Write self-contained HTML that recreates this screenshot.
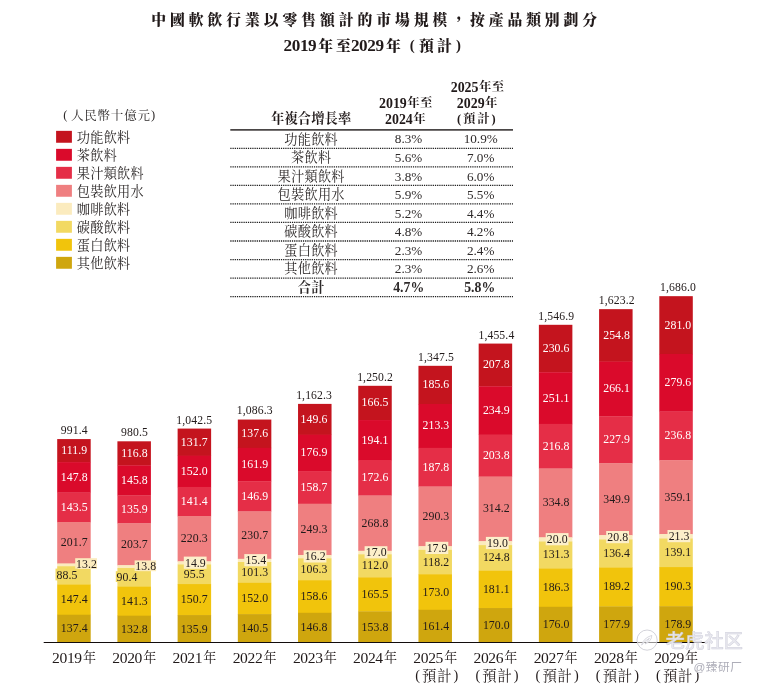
<!DOCTYPE html>
<html lang="zh-Hant"><head><meta charset="utf-8"><title>中國軟飲行業市場規模</title>
<style>html,body{margin:0;padding:0;background:#fff}svg{display:block}text{font-family:"Liberation Serif","Noto Serif CJK SC",serif;fill:#211a1a}.b{font-weight:bold}.m{text-anchor:middle}.w{fill:#fff}.v{font-size:11.8px;letter-spacing:0.05px}.t{font-size:13.2px;letter-spacing:0.25px;fill:#2e2a2a}.p{font-size:13.2px;fill:#2e2a2a}.k{fill:#2e2a2a}.y{font-size:14.3px}.d{stroke:#1e1e1e;stroke-width:1.3;stroke-dasharray:1.25 0.95}</style></head><body>
<svg width="757" height="684" viewBox="0 0 757 684">
<rect width="757" height="684" fill="#fff"/>
<text x="151.2" y="24.9" font-size="14.8" font-weight="900" letter-spacing="3.95">中國軟飲行業以零售額計的市場規模，按產品類別劃分</text>
<g font-size="14.8" font-weight="900">
<text x="283.5" y="51" font-size="17.2" letter-spacing="-0.4">2019</text>
<text x="318.2" y="50.7">年</text>
<text x="336" y="50.7">至</text>
<text x="350.9" y="51" font-size="17.2" letter-spacing="-0.4">2029</text>
<text x="385.9" y="50.7">年</text>
<text x="409.8" y="50.4">(</text>
<text x="419" y="50.7">預</text>
<text x="437" y="50.7">計</text>
<text x="456" y="50.4">)</text>
</g>
<g font-size="12.5"><text class="k" x="63.3" y="119.3">(</text><text class="k" x="70.9" y="119.6" letter-spacing="0.82">人民幣十億元</text><text class="k" x="151.1" y="119.3">)</text></g>
<rect x="56.1" y="130.85" width="15.8" height="11.9" fill="#C4141E"/>
<text class="t" x="76.8" y="141.8">功能飲料</text>
<rect x="56.1" y="148.85" width="15.8" height="11.9" fill="#DA0A2B"/>
<text class="t" x="76.8" y="159.8">茶飲料</text>
<rect x="56.1" y="166.85" width="15.8" height="11.9" fill="#E52E47"/>
<text class="t" x="76.8" y="177.8">果汁類飲料</text>
<rect x="56.1" y="184.85" width="15.8" height="11.9" fill="#EF7F80"/>
<text class="t" x="76.8" y="195.8">包裝飲用水</text>
<rect x="56.1" y="202.85" width="15.8" height="11.9" fill="#FBEBBE"/>
<text class="t" x="76.8" y="213.8">咖啡飲料</text>
<rect x="56.1" y="220.85" width="15.8" height="11.9" fill="#F2D962"/>
<text class="t" x="76.8" y="231.8">碳酸飲料</text>
<rect x="56.1" y="238.85" width="15.8" height="11.9" fill="#F1C40C"/>
<text class="t" x="76.8" y="249.8">蛋白飲料</text>
<rect x="56.1" y="256.85" width="15.8" height="11.9" fill="#CFA60E"/>
<text class="t" x="76.8" y="267.8">其他飲料</text>
<g class="b" font-size="12.4"><text class="m" x="311.2" y="123.4" font-size="13.2" letter-spacing="0.2">年複合增長率</text>
<text x="379.0" y="107.6"><tspan font-size="13.9">2019</tspan><tspan dx="0.5" dy="-0.3" letter-spacing="0.3">年至</tspan></text>
<text x="385.0" y="123.6"><tspan font-size="13.9">2024</tspan><tspan dx="0.5" dy="-0.3" letter-spacing="0.3">年</tspan></text>
<text x="450.7" y="91.5"><tspan font-size="13.9">2025</tspan><tspan dx="0.5" dy="-0.3" letter-spacing="0.3">年至</tspan></text>
<text x="456.8" y="107.6"><tspan font-size="13.9">2029</tspan><tspan dx="0.5" dy="-0.3" letter-spacing="0.3">年</tspan></text>
<text x="456.9" y="122.9">(</text><text x="462.9" y="123.2" letter-spacing="2.0">預計</text><text x="491.6" y="122.9">)</text></g>
<line x1="230.3" x2="513" y1="129.9" y2="129.9" stroke="#4a4646" stroke-width="1.9"/>
<line class="d" x1="230.3" x2="513" y1="148.35" y2="148.35"/>
<line class="d" x1="230.3" x2="513" y1="166.88" y2="166.88"/>
<line class="d" x1="230.3" x2="513" y1="185.41" y2="185.41"/>
<line class="d" x1="230.3" x2="513" y1="203.94" y2="203.94"/>
<line class="d" x1="230.3" x2="513" y1="222.47" y2="222.47"/>
<line class="d" x1="230.3" x2="513" y1="241.00" y2="241.00"/>
<line class="d" x1="230.3" x2="513" y1="259.53" y2="259.53"/>
<line class="d" x1="230.3" x2="513" y1="278.06" y2="278.06"/>
<line class="d" x1="230.3" x2="513" y1="296.59" y2="296.59"/>
<text class="t m" x="311.2" y="143.7">功能飲料</text>
<text class="p m" x="408.6" y="143.4">8.3%</text><text class="p m" x="480.7" y="143.4">10.9%</text>
<text class="t m" x="311.2" y="162.2">茶飲料</text>
<text class="p m" x="408.6" y="162.0">5.6%</text><text class="p m" x="480.7" y="162.0">7.0%</text>
<text class="t m" x="311.2" y="180.8">果汁類飲料</text>
<text class="p m" x="408.6" y="180.5">3.8%</text><text class="p m" x="480.7" y="180.5">6.0%</text>
<text class="t m" x="311.2" y="199.3">包裝飲用水</text>
<text class="p m" x="408.6" y="199.0">5.9%</text><text class="p m" x="480.7" y="199.0">5.5%</text>
<text class="t m" x="311.2" y="217.8">咖啡飲料</text>
<text class="p m" x="408.6" y="217.6">5.2%</text><text class="p m" x="480.7" y="217.6">4.4%</text>
<text class="t m" x="311.2" y="236.3">碳酸飲料</text>
<text class="p m" x="408.6" y="236.1">4.8%</text><text class="p m" x="480.7" y="236.1">4.2%</text>
<text class="t m" x="311.2" y="254.9">蛋白飲料</text>
<text class="p m" x="408.6" y="254.6">2.3%</text><text class="p m" x="480.7" y="254.6">2.4%</text>
<text class="t m" x="311.2" y="273.4">其他飲料</text>
<text class="p m" x="408.6" y="273.2">2.3%</text><text class="p m" x="480.7" y="273.2">2.6%</text>
<g class="b m"><text class="t" x="311.2" y="291.9">合計</text><text class="p" x="408.7" y="291.7" style="font-size:13.8px">4.7%</text><text class="p" x="479.7" y="291.7" style="font-size:13.8px">5.8%</text></g>
<rect x="57.20" y="439.07" width="33.50" height="23.32" fill="#C4141E"/>
<rect x="57.20" y="462.09" width="33.50" height="30.70" fill="#DA0A2B"/>
<rect x="57.20" y="492.49" width="33.50" height="29.82" fill="#E52E47"/>
<rect x="57.20" y="522.01" width="33.50" height="41.79" fill="#EF7F80"/>
<rect x="57.20" y="563.50" width="33.50" height="3.02" fill="#FBEBBE"/>
<rect x="57.20" y="566.21" width="33.50" height="18.50" fill="#F2D962"/>
<rect x="57.20" y="584.42" width="33.50" height="30.62" fill="#F1C40C"/>
<rect x="57.20" y="614.74" width="33.50" height="28.26" fill="#CFA60E"/>
<text class="v m" x="74.3" y="434.0" style="font-size:11.7px;letter-spacing:0.12px">991.4</text>
<text class="v m w" x="74.2" y="454.0">111.9</text>
<text class="v m w" x="74.2" y="480.7">147.8</text>
<text class="v m w" x="74.2" y="510.7">143.5</text>
<text class="v m" x="74.2" y="546.2">201.7</text>
<rect x="75.2" y="558.2" width="21.8" height="10.8" fill="#FBEBBE"/>
<text class="v m" x="86.5" y="567.8">13.2</text>
<rect x="55.5" y="568.6" width="22.5" height="11.8" fill="#F2D962"/>
<text class="v m" x="67.0" y="578.5">88.5</text>
<text class="v m" x="74.2" y="603.0">147.4</text>
<text class="v m" x="74.2" y="632.3">137.4</text>
<text x="52.1" y="663.1"><tspan font-size="15.6" letter-spacing="-0.38">2019</tspan><tspan font-size="13.1" dx="1.2" dy="-0.7">年</tspan></text>
<rect x="117.41" y="441.31" width="33.50" height="24.33" fill="#C4141E"/>
<rect x="117.41" y="465.34" width="33.50" height="30.29" fill="#DA0A2B"/>
<rect x="117.41" y="495.33" width="33.50" height="28.25" fill="#E52E47"/>
<rect x="117.41" y="523.28" width="33.50" height="42.20" fill="#EF7F80"/>
<rect x="117.41" y="565.18" width="33.50" height="3.14" fill="#FBEBBE"/>
<rect x="117.41" y="568.02" width="33.50" height="18.90" fill="#F2D962"/>
<rect x="117.41" y="586.62" width="33.50" height="29.37" fill="#F1C40C"/>
<rect x="117.41" y="615.68" width="33.50" height="27.32" fill="#CFA60E"/>
<text class="v m" x="134.5" y="436.2" style="font-size:11.7px;letter-spacing:0.12px">980.5</text>
<text class="v m w" x="134.4" y="456.8">116.8</text>
<text class="v m w" x="134.4" y="483.8">145.8</text>
<text class="v m w" x="134.4" y="512.8">135.9</text>
<text class="v m" x="134.4" y="547.7">203.7</text>
<rect x="134.6" y="560.4" width="21.5" height="10.8" fill="#FBEBBE"/>
<text class="v m" x="145.8" y="570.0">13.8</text>
<rect x="115.8" y="571.2" width="22.0" height="10.8" fill="#F2D962"/>
<text class="v m" x="127.0" y="580.8">90.4</text>
<text class="v m" x="134.4" y="604.6">141.3</text>
<text class="v m" x="134.4" y="632.8">132.8</text>
<text x="112.3" y="663.1"><tspan font-size="15.6" letter-spacing="-0.38">2020</tspan><tspan font-size="13.1" dx="1.2" dy="-0.7">年</tspan></text>
<rect x="177.62" y="428.58" width="33.50" height="27.39" fill="#C4141E"/>
<rect x="177.62" y="455.67" width="33.50" height="31.57" fill="#DA0A2B"/>
<rect x="177.62" y="486.94" width="33.50" height="29.39" fill="#E52E47"/>
<rect x="177.62" y="516.02" width="33.50" height="45.62" fill="#EF7F80"/>
<rect x="177.62" y="561.34" width="33.50" height="3.36" fill="#FBEBBE"/>
<rect x="177.62" y="564.40" width="33.50" height="19.94" fill="#F2D962"/>
<rect x="177.62" y="584.05" width="33.50" height="31.30" fill="#F1C40C"/>
<rect x="177.62" y="615.05" width="33.50" height="27.95" fill="#CFA60E"/>
<text class="v m" x="194.3" y="423.5" style="font-size:11.7px;letter-spacing:0.12px">1,042.5</text>
<text class="v m w" x="194.2" y="445.6">131.7</text>
<text class="v m w" x="194.2" y="474.8">152.0</text>
<text class="v m w" x="194.2" y="504.9">141.4</text>
<text class="v m" x="194.2" y="542.1">220.3</text>
<rect x="183.8" y="556.6" width="22.8" height="12.2" fill="#FCEFCA"/>
<text class="v m" x="195.4" y="566.6">14.9</text>
<text class="v m" x="194.2" y="577.7">95.5</text>
<text class="v m" x="194.2" y="603.0">150.7</text>
<text class="v m" x="194.2" y="632.5">135.9</text>
<text x="172.5" y="663.1"><tspan font-size="15.6" letter-spacing="-0.38">2021</tspan><tspan font-size="13.1" dx="1.2" dy="-0.7">年</tspan></text>
<rect x="237.83" y="419.55" width="33.50" height="28.60" fill="#C4141E"/>
<rect x="237.83" y="447.85" width="33.50" height="33.60" fill="#DA0A2B"/>
<rect x="237.83" y="481.16" width="33.50" height="30.52" fill="#E52E47"/>
<rect x="237.83" y="511.37" width="33.50" height="47.75" fill="#EF7F80"/>
<rect x="237.83" y="558.83" width="33.50" height="3.47" fill="#FBEBBE"/>
<rect x="237.83" y="562.00" width="33.50" height="21.14" fill="#F2D962"/>
<rect x="237.83" y="582.83" width="33.50" height="31.57" fill="#F1C40C"/>
<rect x="237.83" y="614.10" width="33.50" height="28.90" fill="#CFA60E"/>
<text class="v m" x="254.8" y="414.4" style="font-size:11.7px;letter-spacing:0.12px">1,086.3</text>
<text class="v m w" x="254.7" y="437.2">137.6</text>
<text class="v m w" x="254.7" y="468.0">161.9</text>
<text class="v m w" x="254.7" y="499.7">146.9</text>
<text class="v m" x="254.7" y="538.6">230.7</text>
<rect x="244.3" y="554.1" width="22.8" height="12.2" fill="#FCEFCA"/>
<text class="v m" x="255.9" y="564.1">15.4</text>
<text class="v m" x="254.7" y="575.9">101.3</text>
<text class="v m" x="254.7" y="601.9">152.0</text>
<text class="v m" x="254.7" y="632.0">140.5</text>
<text x="232.7" y="663.1"><tspan font-size="15.6" letter-spacing="-0.38">2022</tspan><tspan font-size="13.1" dx="1.2" dy="-0.7">年</tspan></text>
<rect x="298.04" y="403.89" width="33.50" height="31.07" fill="#C4141E"/>
<rect x="298.04" y="434.67" width="33.50" height="36.69" fill="#DA0A2B"/>
<rect x="298.04" y="471.06" width="33.50" height="32.94" fill="#E52E47"/>
<rect x="298.04" y="503.70" width="33.50" height="51.58" fill="#EF7F80"/>
<rect x="298.04" y="554.98" width="33.50" height="3.63" fill="#FBEBBE"/>
<rect x="298.04" y="558.31" width="33.50" height="22.17" fill="#F2D962"/>
<rect x="298.04" y="580.18" width="33.50" height="32.92" fill="#F1C40C"/>
<rect x="298.04" y="612.80" width="33.50" height="30.20" fill="#CFA60E"/>
<text class="v m" x="314.1" y="398.8" style="font-size:11.7px;letter-spacing:0.12px">1,162.3</text>
<text class="v m w" x="314.0" y="422.7">149.6</text>
<text class="v m w" x="314.0" y="456.3">176.9</text>
<text class="v m w" x="314.0" y="490.8">158.7</text>
<text class="v m" x="314.0" y="532.8">249.3</text>
<rect x="303.6" y="550.3" width="22.8" height="12.2" fill="#FCEFCA"/>
<text class="v m" x="315.2" y="560.3">16.2</text>
<text class="v m" x="314.0" y="572.7">106.3</text>
<text class="v m" x="314.0" y="599.9">158.6</text>
<text class="v m" x="314.0" y="631.4">146.8</text>
<text x="292.9" y="663.1"><tspan font-size="15.6" letter-spacing="-0.38">2023</tspan><tspan font-size="13.1" dx="1.2" dy="-0.7">年</tspan></text>
<rect x="358.25" y="385.81" width="33.50" height="34.55" fill="#C4141E"/>
<rect x="358.25" y="420.06" width="33.50" height="40.23" fill="#DA0A2B"/>
<rect x="358.25" y="459.99" width="33.50" height="35.80" fill="#E52E47"/>
<rect x="358.25" y="495.49" width="33.50" height="55.59" fill="#EF7F80"/>
<rect x="358.25" y="550.78" width="33.50" height="3.80" fill="#FBEBBE"/>
<rect x="358.25" y="554.28" width="33.50" height="23.34" fill="#F2D962"/>
<rect x="358.25" y="577.32" width="33.50" height="34.34" fill="#F1C40C"/>
<rect x="358.25" y="611.36" width="33.50" height="31.64" fill="#CFA60E"/>
<text class="v m" x="375.1" y="380.7" style="font-size:11.7px;letter-spacing:0.12px">1,250.2</text>
<text class="v m w" x="375.0" y="406.4">166.5</text>
<text class="v m w" x="375.0" y="443.5">194.1</text>
<text class="v m w" x="375.0" y="481.2">172.6</text>
<text class="v m" x="375.0" y="526.6">268.8</text>
<rect x="364.6" y="546.2" width="22.8" height="12.2" fill="#FCEFCA"/>
<text class="v m" x="376.2" y="556.2">17.0</text>
<text class="v m" x="375.0" y="569.3">112.0</text>
<text class="v m" x="375.0" y="597.8">165.5</text>
<text class="v m" x="375.0" y="630.6">153.8</text>
<text x="353.1" y="663.1"><tspan font-size="15.6" letter-spacing="-0.38">2024</tspan><tspan font-size="13.1" dx="1.2" dy="-0.7">年</tspan></text>
<rect x="418.46" y="365.82" width="33.50" height="38.48" fill="#C4141E"/>
<rect x="418.46" y="404.00" width="33.50" height="44.18" fill="#DA0A2B"/>
<rect x="418.46" y="447.87" width="33.50" height="38.93" fill="#E52E47"/>
<rect x="418.46" y="486.50" width="33.50" height="60.01" fill="#EF7F80"/>
<rect x="418.46" y="546.22" width="33.50" height="3.98" fill="#FBEBBE"/>
<rect x="418.46" y="549.90" width="33.50" height="24.61" fill="#F2D962"/>
<rect x="418.46" y="574.21" width="33.50" height="35.89" fill="#F1C40C"/>
<rect x="418.46" y="609.80" width="33.50" height="33.20" fill="#CFA60E"/>
<text class="v m" x="436.0" y="360.7" style="font-size:11.7px;letter-spacing:0.12px">1,347.5</text>
<text class="v m w" x="435.9" y="388.4">185.6</text>
<text class="v m w" x="435.9" y="429.4">213.3</text>
<text class="v m w" x="435.9" y="470.6">187.8</text>
<text class="v m" x="435.9" y="519.8">290.3</text>
<rect x="425.5" y="541.8" width="22.8" height="12.2" fill="#FCEFCA"/>
<text class="v m" x="437.1" y="551.8">17.9</text>
<text class="v m" x="435.9" y="565.5">118.2</text>
<text class="v m" x="435.9" y="595.5">173.0</text>
<text class="v m" x="435.9" y="629.9">161.4</text>
<text x="413.3" y="663.1"><tspan font-size="15.6" letter-spacing="-0.38">2025</tspan><tspan font-size="13.1" dx="1.2" dy="-0.7">年</tspan></text>
<g font-size="14.3"><text x="415.2" y="680.3">(</text><text class="m" x="437.2" y="680.9" letter-spacing="0.8">預計</text><text x="453.6" y="680.3">)</text></g>
<rect x="478.67" y="343.58" width="33.50" height="43.04" fill="#C4141E"/>
<rect x="478.67" y="386.33" width="33.50" height="48.62" fill="#DA0A2B"/>
<rect x="478.67" y="434.65" width="33.50" height="42.22" fill="#E52E47"/>
<rect x="478.67" y="476.57" width="33.50" height="64.93" fill="#EF7F80"/>
<rect x="478.67" y="541.20" width="33.50" height="4.21" fill="#FBEBBE"/>
<rect x="478.67" y="545.11" width="33.50" height="25.97" fill="#F2D962"/>
<rect x="478.67" y="570.78" width="33.50" height="37.55" fill="#F1C40C"/>
<rect x="478.67" y="608.03" width="33.50" height="34.97" fill="#CFA60E"/>
<text class="v m" x="496.4" y="338.5" style="font-size:11.7px;letter-spacing:0.12px">1,455.4</text>
<text class="v m w" x="496.3" y="368.4">207.8</text>
<text class="v m w" x="496.3" y="413.9">234.9</text>
<text class="v m w" x="496.3" y="459.1">203.8</text>
<text class="v m" x="496.3" y="512.3">314.2</text>
<rect x="485.9" y="536.9" width="22.8" height="12.2" fill="#FCEFCA"/>
<text class="v m" x="497.5" y="546.9">19.0</text>
<text class="v m" x="496.3" y="561.4">124.8</text>
<text class="v m" x="496.3" y="592.9">181.1</text>
<text class="v m" x="496.3" y="629.0">170.0</text>
<text x="473.5" y="663.1"><tspan font-size="15.6" letter-spacing="-0.38">2026</tspan><tspan font-size="13.1" dx="1.2" dy="-0.7">年</tspan></text>
<g font-size="14.3"><text x="475.4" y="680.3">(</text><text class="m" x="497.4" y="680.9" letter-spacing="0.8">預計</text><text x="513.8" y="680.3">)</text></g>
<rect x="538.88" y="324.80" width="33.50" height="47.73" fill="#C4141E"/>
<rect x="538.88" y="372.24" width="33.50" height="51.95" fill="#DA0A2B"/>
<rect x="538.88" y="423.89" width="33.50" height="44.90" fill="#E52E47"/>
<rect x="538.88" y="468.48" width="33.50" height="69.17" fill="#EF7F80"/>
<rect x="538.88" y="537.35" width="33.50" height="4.41" fill="#FBEBBE"/>
<rect x="538.88" y="541.47" width="33.50" height="27.31" fill="#F2D962"/>
<rect x="538.88" y="568.47" width="33.50" height="38.62" fill="#F1C40C"/>
<rect x="538.88" y="606.80" width="33.50" height="36.20" fill="#CFA60E"/>
<text class="v m" x="556.2" y="319.7" style="font-size:11.7px;letter-spacing:0.12px">1,546.9</text>
<text class="v m w" x="556.1" y="352.0">230.6</text>
<text class="v m w" x="556.1" y="401.5">251.1</text>
<text class="v m w" x="556.1" y="449.6">216.8</text>
<text class="v m" x="556.1" y="506.4">334.8</text>
<rect x="545.7" y="533.1" width="22.8" height="12.2" fill="#FCEFCA"/>
<text class="v m" x="557.3" y="543.1">20.0</text>
<text class="v m" x="556.1" y="558.4">131.3</text>
<text class="v m" x="556.1" y="591.1">186.3</text>
<text class="v m" x="556.1" y="628.3">176.0</text>
<text x="533.7" y="663.1"><tspan font-size="15.6" letter-spacing="-0.38">2027</tspan><tspan font-size="13.1" dx="1.2" dy="-0.7">年</tspan></text>
<g font-size="14.3"><text x="535.6" y="680.3">(</text><text class="m" x="557.6" y="680.9" letter-spacing="0.8">預計</text><text x="574.0" y="680.3">)</text></g>
<rect x="599.09" y="309.15" width="33.50" height="52.71" fill="#C4141E"/>
<rect x="599.09" y="361.56" width="33.50" height="55.04" fill="#DA0A2B"/>
<rect x="599.09" y="416.30" width="33.50" height="47.18" fill="#E52E47"/>
<rect x="599.09" y="463.18" width="33.50" height="72.27" fill="#EF7F80"/>
<rect x="599.09" y="535.15" width="33.50" height="4.58" fill="#FBEBBE"/>
<rect x="599.09" y="539.43" width="33.50" height="28.36" fill="#F2D962"/>
<rect x="599.09" y="567.49" width="33.50" height="39.22" fill="#F1C40C"/>
<rect x="599.09" y="606.41" width="33.50" height="36.59" fill="#CFA60E"/>
<text class="v m" x="616.7" y="304.0" style="font-size:11.7px;letter-spacing:0.12px">1,623.2</text>
<text class="v m w" x="616.6" y="338.8">254.8</text>
<text class="v m w" x="616.6" y="392.4">266.1</text>
<text class="v m w" x="616.6" y="443.2">227.9</text>
<text class="v m" x="616.6" y="502.6">349.9</text>
<rect x="606.2" y="531.0" width="22.8" height="12.2" fill="#FCEFCA"/>
<text class="v m" x="617.8" y="541.0">20.8</text>
<text class="v m" x="616.6" y="556.9">136.4</text>
<text class="v m" x="616.6" y="590.4">189.2</text>
<text class="v m" x="616.6" y="628.2">177.9</text>
<text x="593.9" y="663.1"><tspan font-size="15.6" letter-spacing="-0.38">2028</tspan><tspan font-size="13.1" dx="1.2" dy="-0.7">年</tspan></text>
<g font-size="14.3"><text x="595.8" y="680.3">(</text><text class="m" x="617.8" y="680.9" letter-spacing="0.8">預計</text><text x="634.2" y="680.3">)</text></g>
<rect x="659.30" y="296.17" width="33.50" height="58.10" fill="#C4141E"/>
<rect x="659.30" y="353.97" width="33.50" height="57.81" fill="#DA0A2B"/>
<rect x="659.30" y="411.48" width="33.50" height="49.01" fill="#E52E47"/>
<rect x="659.30" y="460.19" width="33.50" height="74.17" fill="#EF7F80"/>
<rect x="659.30" y="534.06" width="33.50" height="4.68" fill="#FBEBBE"/>
<rect x="659.30" y="538.44" width="33.50" height="28.91" fill="#F2D962"/>
<rect x="659.30" y="567.06" width="33.50" height="39.44" fill="#F1C40C"/>
<rect x="659.30" y="606.20" width="33.50" height="36.80" fill="#CFA60E"/>
<text class="v m" x="678.0" y="291.1" style="font-size:11.7px;letter-spacing:0.12px">1,686.0</text>
<text class="v m w" x="677.9" y="328.5">281.0</text>
<text class="v m w" x="677.9" y="386.2">279.6</text>
<text class="v m w" x="677.9" y="439.3">236.8</text>
<text class="v m" x="677.9" y="500.6">359.1</text>
<rect x="667.5" y="530.0" width="22.8" height="12.2" fill="#FCEFCA"/>
<text class="v m" x="679.1" y="540.0">21.3</text>
<text class="v m" x="677.9" y="556.2">139.1</text>
<text class="v m" x="677.9" y="590.1">190.3</text>
<text class="v m" x="677.9" y="628.1">178.9</text>
<text x="654.2" y="663.1"><tspan font-size="15.6" letter-spacing="-0.38">2029</tspan><tspan font-size="13.1" dx="1.2" dy="-0.7">年</tspan></text>
<g font-size="14.3"><text x="656.1" y="680.3">(</text><text class="m" x="678.1" y="680.9" letter-spacing="0.8">預計</text><text x="694.5" y="680.3">)</text></g>
<line x1="43.7" x2="706.3" y1="642.5" y2="642.5" stroke="#120c0c" stroke-width="1.1"/>
<g style="font-family:'Liberation Sans','Noto Sans CJK SC',sans-serif">
<circle cx="647.1" cy="640.1" r="10.1" fill="#fff" fill-opacity="0.55" stroke="#cdcdd5" stroke-width="0.9"/>
<path d="M641.6 645.2 Q643.4 638 651.8 635.4 Q651.4 641.6 645 644 Q647.6 641.6 649.4 638.2 Q644.8 640.6 641.6 645.2Z" fill="#fff" fill-opacity="0.9" stroke="#c9c9d2" stroke-width="0.7"/>
<text x="666.2" y="648.3" font-size="19.2" font-weight="500" style="font-family:'Liberation Sans','Noto Sans CJK SC',sans-serif;fill:#b4b4c4;fill-opacity:0.5" letter-spacing="0.1">老虎社区</text>
<text x="665.6" y="647.6" font-size="19.2" font-weight="500" style="font-family:'Liberation Sans','Noto Sans CJK SC',sans-serif;fill:#e9e9f0;fill-opacity:0.93;stroke:#d2d2de;stroke-width:0.35" letter-spacing="0.1">老虎社区</text>
<text x="693.4" y="670.6" font-size="11.7" font-weight="400" style="font-family:'Liberation Sans','Noto Sans CJK SC',sans-serif;fill:#adadb8;stroke:#fff;stroke-width:0.5;paint-order:stroke" letter-spacing="0.55">@臻研厂</text>
</g>
</svg></body></html>
